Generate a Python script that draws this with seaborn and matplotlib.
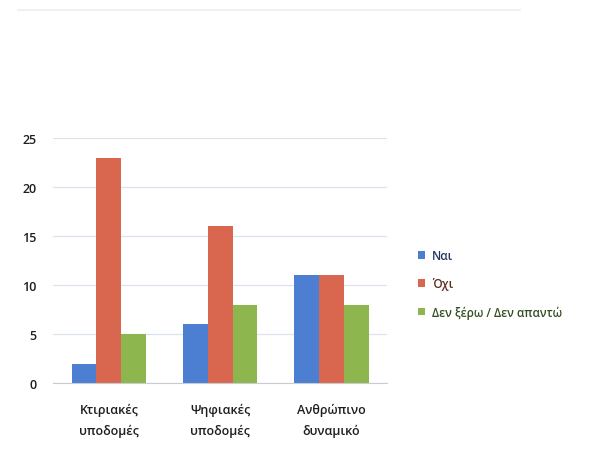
import pandas as pd
import seaborn as sns
import matplotlib.pyplot as plt

categories = ['Κτιριακές\nυποδομές', 'Ψηφιακές\nυποδομές', 'Ανθρώπινο\nδυναμικό']
answers = ['Ναι', 'Όχι', 'Δεν ξέρω / Δεν απαντώ']
nai = [2, 6, 11]
oxi = [23, 16, 11]
den_ksero = [5, 8, 8]
colors = ['#4C7FD2', '#D9674F', '#8DB64E']
text_colors = ['#22365E', '#5E2B22', '#344F22']

data = pd.DataFrame({
    'category': categories * 3,
    'answer': [answers[0]] * 3 + [answers[1]] * 3 + [answers[2]] * 3,
    'value': nai + oxi + den_ksero,
})

sns.set_style('white')
plt.rcParams['font.family'] = ['Open Sans', 'DejaVu Sans']

fig = plt.figure(figsize=(5.91, 4.52), dpi=100)
ax = fig.add_axes([0.09, 0.15, 0.565, 0.542])

sns.barplot(data=data, x='category', y='value', hue='answer',
            palette=colors, width=0.67, saturation=1, ax=ax,
            edgecolor='none', linewidth=0)

ax.set_ylim(0, 25)
ax.set_xlim(-0.5, 2.5)
ax.set_yticks([0, 5, 10, 15, 20, 25])
ax.yaxis.grid(True, color='#dde3ec', linewidth=0.9)
ax.set_axisbelow(True)
for s in ['top', 'right', 'left']:
    ax.spines[s].set_visible(False)
ax.spines['bottom'].set_color('#c8ccd2')
ax.set_xlabel('')
ax.set_ylabel('')
ax.tick_params(axis='y', length=0, labelsize=9, colors='#1e1e1e', pad=12)
ax.tick_params(axis='x', length=0, labelsize=9, colors='#1e1e1e', pad=14)
ax.set_xticks([0.5, 1.5], minor=True)
ax.tick_params(axis='x', which='minor', length=4, color='#c8ccd2')
for lbl in ax.get_xticklabels() + ax.get_yticklabels():
    lbl.set_linespacing(1.75)
    lbl.set_fontweight('semibold')

leg = ax.legend(loc='center left', bbox_to_anchor=(1.06, 0.405), frameon=False,
                fontsize=8.5, handlelength=0.6, handleheight=0.6,
                labelspacing=1.3, handletextpad=0.6)
for t, c in zip(leg.get_texts(), text_colors):
    t.set_color(c)
    t.set_fontweight('semibold')

fig.add_artist(plt.Line2D([0.03, 0.88], [0.975, 0.975], color='#f0f0f0', linewidth=1.5))

fig.savefig('out.png', dpi=100)
